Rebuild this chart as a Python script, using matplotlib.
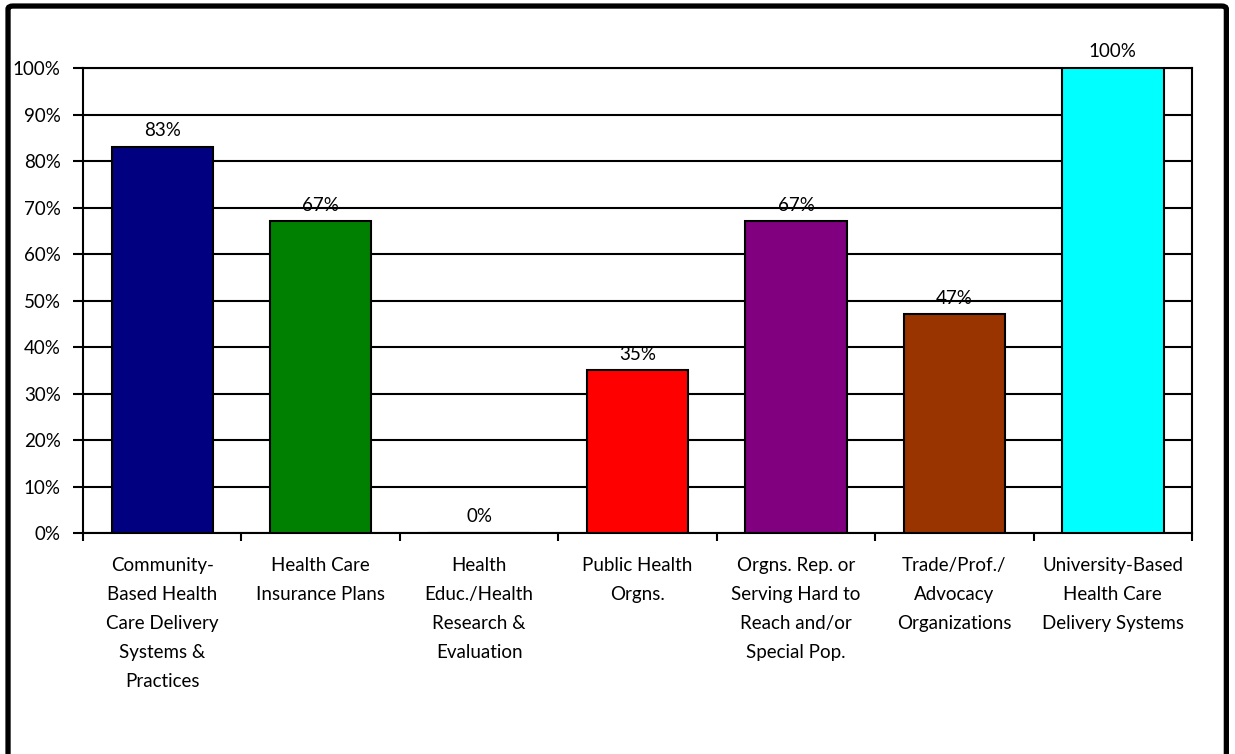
import matplotlib.pyplot as plt
from matplotlib.patches import FancyBboxPatch
from matplotlib.ticker import MultipleLocator, PercentFormatter

# categories and their shares (percent)
categorias = [
    'Community-\nBased Health\nCare Delivery\nSystems &\nPractices',
    'Health Care\nInsurance Plans',
    'Health\nEduc./Health\nResearch &\nEvaluation',
    'Public Health\nOrgns.',
    'Orgns. Rep. or\nServing Hard to\nReach and/or\nSpecial Pop.',
    'Trade/Prof./\nAdvocacy\nOrganizations',
    'University-Based\nHealth Care\nDelivery Systems',
]
valores = [83, 67, 0, 35, 67, 47, 100]
cores = ['#000080', '#008000', '#808080', '#FF0000', '#800080', '#993300', '#00FFFF']

plt.rcParams['font.family'] = ['Lato', 'DejaVu Sans']

fig = plt.figure(figsize=(12.35, 7.54), dpi=100)
ax = fig.add_axes([0.0672, 0.2931, 0.898, 0.6167])

x = range(len(valores))
barras = ax.bar(x, valores, width=0.64, color=cores, edgecolor='black',
                linewidth=1.5, zorder=3)

for xi, v in zip(x, valores):
    ax.annotate(f'{v}%', (xi, v), xytext=(0, 5.5), textcoords='offset points',
                ha='center', va='bottom', fontsize=13.5, annotation_clip=False)

ax.set_xlim(-0.5, len(valores) - 0.5)
ax.set_ylim(0, 100)
ax.yaxis.set_major_locator(MultipleLocator(10))
ax.yaxis.set_major_formatter(PercentFormatter(decimals=0))
ax.grid(axis='y', color='black', linewidth=1.5, zorder=0)

# labels at the bar centres, tick marks between categories
ax.set_xticks(list(x))
ax.set_xticklabels(categorias, fontsize=13.5, linespacing=1.87)
ax.set_xticks([i - 0.5 for i in range(len(valores) + 1)], minor=True)
ax.tick_params(axis='x', which='major', length=0, pad=17)
ax.tick_params(axis='x', which='minor', length=6, width=1.5, direction='out')
ax.tick_params(axis='y', length=7, width=1.5, pad=9, labelsize=13.5)

for s in ax.spines.values():
    s.set_linewidth(1.5)
    s.set_color('black')

# outer frame of the chart area
moldura = FancyBboxPatch((0.0065, -0.05), 0.9865, 1.042,
                         boxstyle='round,pad=0,rounding_size=0.004',
                         transform=fig.transFigure, fill=False,
                         edgecolor='black', linewidth=3.8, clip_on=False)
fig.patches.append(moldura)

fig.savefig('out.png', dpi=100, facecolor='white')
